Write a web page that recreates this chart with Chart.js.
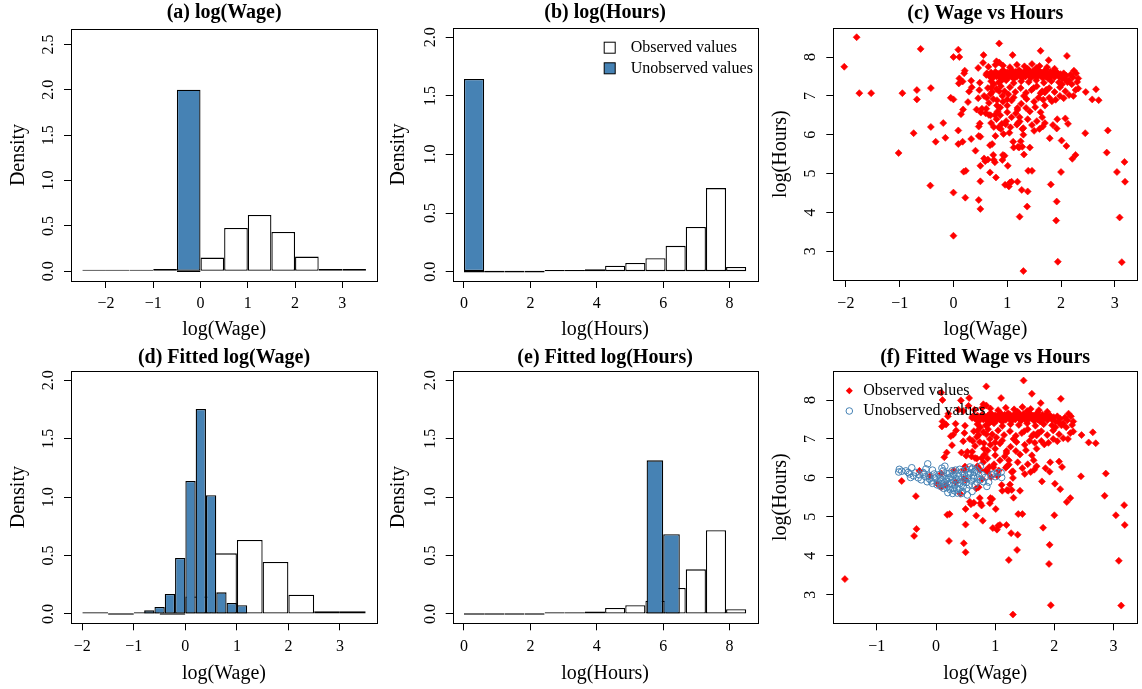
<!DOCTYPE html>
<html>
<head>
<meta charset="utf-8">
<script src="https://cdn.jsdelivr.net/npm/chart.js@4.4.1/dist/chart.umd.min.js"></script>
<style>
  body { margin: 0; background: #fff; }
  #wrap { position: relative; width: 1142px; height: 689px; }
  canvas { position: absolute; }
</style>
</head>
<body>
<div id="wrap">
  <canvas id="pa" width="380" height="345" style="left:0;top:0"></canvas>
  <canvas id="pb" width="380" height="345" style="left:380px;top:0"></canvas>
  <canvas id="pc" width="382" height="345" style="left:760px;top:0"></canvas>
  <canvas id="pd" width="380" height="344" style="left:0;top:345px"></canvas>
  <canvas id="pe" width="380" height="344" style="left:380px;top:345px"></canvas>
  <canvas id="pf" width="382" height="344" style="left:760px;top:345px"></canvas>
</div>
<script>
// ---- histogram data (bin breaks + densities) ----
const wageBreaksA = [-2.5, -2, -1.5, -1, -0.5, 0, 0.5, 1, 1.5, 2, 2.5, 3, 3.5];
const wageObsA = [0.004, 0.015, 0.004, 0.026, 0, 0.151, 0.478, 0.621, 0.434, 0.162, 0.026, 0.026];
const wageMisBreaksA = [-0.5, 0];
const wageMisA = [2.0];

const hoursBreaks = [0, 0.607, 1.214, 1.821, 2.429, 3.036, 3.643, 4.25, 4.857, 5.464, 6.071, 6.679, 7.286, 7.893, 8.5];
const hoursObsB = [0, 0, 0, 0, 0.014, 0.006, 0.02, 0.051, 0.074, 0.114, 0.22, 0.382, 0.713, 0.04];
const hoursMisBreaksB = [0, 0.607];
const hoursMisB = [1.644];

const wageBreaksD = [-2, -1.5, -1, -0.5, 0, 0.5, 1, 1.5, 2, 2.5, 3, 3.5];
const wageObsD = [0.009, 0, 0.009, 0, 0.15, 0.519, 0.633, 0.445, 0.165, 0.023, 0.023];
const wageFitBreaksD = [-0.8, -0.6, -0.4, -0.2, 0, 0.2, 0.4, 0.6, 0.8, 1.0, 1.2];
const wageFitD = [0.031, 0.06, 0.171, 0.479, 1.138, 1.755, 1.016, 0.185, 0.094, 0.074];

const hoursObsE = [0, 0, 0, 0, 0.014, 0.006, 0.02, 0.051, 0.074, 0.114, 0.223, 0.382, 0.716, 0.04];
const hoursFitBreaksE = [5.5, 6.0, 6.5];
const hoursFitE = [1.315, 0.682];

// ---- scatter data: [log(Wage), log(Hours)] ----
const obsCore = [
  [0.09,8.19],[0.11,8.0],[0.09,6.11],[0.09,5.76],[0.17,5.82],[0.19,5.05],[0.23,5.07],[0.22,4.38],[0.14,6.53],[0.18,6.65],
  [0.20,7.58],[0.21,7.65],[0.11,7.45],[0.10,7.32],[0.17,7.37],[0.27,6.84],[0.29,7.11],[0.33,5.89],[0.33,7.39],[0.41,5.59],
  [0.34,7.22],[0.43,6.65],[0.46,7.72],[0.46,6.94],[0.47,6.21],[0.47,5.97],[0.49,6.29],[0.47,4.32],[0.50,4.09],[0.50,4.80],
  [0.50,5.20],[0.48,7.15],[0.49,7.34],[0.50,5.95],[0.51,6.57],[0.53,6.67],[0.55,7.85],[0.56,8.05],[0.57,7.0],[0.57,5.39],
  [0.59,5.32],[0.61,6.67],[0.64,5.36],[0.61,7.54],[0.66,6.51],[0.68,5.03],[0.68,5.73],[0.70,7.21],[0.74,5.48],[0.75,5.35],
  [0.77,5.29],[0.77,6.51],[0.79,4.90],[0.80,7.89],[0.81,6.89],[0.85,7.86],[0.85,8.35],[0.87,6.70],[0.89,7.39],[0.91,5.35],
  [0.92,5.48],[0.95,5.46],[0.96,4.71],[0.97,6.27],[1.01,5.20],[1.02,7.04],[1.03,4.67],[1.05,4.77],[1.08,4.79],[1.10,8.05],
  [1.11,5.82],[1.12,5.67],[1.19,6.64],[1.19,4.79],[1.22,5.67],[1.23,3.89],[1.23,6.45],[1.25,5.83],[1.27,4.58],[1.30,2.49],
  [1.31,5.49],[1.37,4.15],[1.38,4.54],[1.39,5.07],[1.42,5.67],[1.46,5.07],[1.62,6.58],[1.66,6.21],[1.72,7.15],[1.79,5.91],
  [1.81,4.72],[1.83,6.86],[1.92,6.16],[1.93,6.40],[1.92,4.28],[1.91,3.79],[1.94,2.73],[2.00,5.04],[2.01,5.85],[2.08,6.42],
  [2.10,5.71],[2.13,6.28],[2.21,5.38],[2.27,5.48],[2.45,6.04],[2.58,6.91],[2.65,7.17],[2.70,6.89],[2.85,5.54],[2.87,6.11],
  [3.04,5.04],[3.09,3.87],[3.13,2.72],[3.18,5.30],[3.19,4.79],[2.27,7.15],[2.32,7.19],[2.11,8.03],[1.77,7.92],[1.62,8.16],
  [2.07,7.43],[2.24,7.65],[2.32,7.45],[2.23,7.0],[2.05,6.94],[2.15,7.02],[1.65,6.45],[1.30,6.17],[1.23,6.34],[1.20,5.69],
  [1.28,5.69],[1.18,6.26],[1.19,6.69],[1.35,6.69],[1.52,6.71],[1.67,6.90],[1.70,7.09],[1.74,7.16],[1.62,7.07],[1.49,7.20],
  [1.31,7.0],[1.12,6.96],[1.0,6.91],[0.91,7.0],[0.85,7.12],[0.75,7.3],[0.69,7.05],[0.62,6.95],[0.69,6.50],[0.81,6.75],
  [0.87,6.50],[0.90,6.28],[1.0,6.58],[1.06,6.19],[0.93,6.02],[0.84,6.19],[0.78,5.97],[0.72,5.76],[2.46,7.10],
  [0.62,7.58],[0.66,7.52],[0.70,7.60],[0.72,7.45],[0.75,7.55],[0.78,7.62],[0.80,7.50],[0.83,7.57],[0.86,7.48],[0.88,7.60],
  [0.90,7.53],[0.92,7.66],[0.94,7.45],[0.96,7.58],[0.98,7.52],[1.00,7.61],[1.02,7.47],[1.04,7.56],[1.06,7.63],[1.08,7.50],
  [1.10,7.58],[1.12,7.44],[1.14,7.54],[1.16,7.62],[1.18,7.49],[1.20,7.57],[1.22,7.66],[1.24,7.52],[1.26,7.59],[1.28,7.46],
  [1.30,7.55],[1.32,7.63],[1.34,7.50],[1.36,7.58],[1.38,7.70],[1.40,7.53],[1.42,7.60],[1.44,7.47],[1.46,7.56],[1.48,7.64],
  [1.50,7.51],[1.52,7.58],[1.54,7.72],[1.56,7.49],[1.58,7.57],[1.60,7.62],[1.62,7.53],[1.64,7.60],[1.66,7.46],[1.68,7.55],
  [1.70,7.64],[1.72,7.50],[1.74,7.58],[1.76,7.45],[1.78,7.55],[1.80,7.62],[1.82,7.52],[1.85,7.58],[1.88,7.48],[1.90,7.55],
  [1.93,7.60],[1.96,7.50],[1.99,7.56],[2.02,7.45],[2.05,7.58],[2.10,7.52],[2.15,7.40],[2.18,7.55],[2.22,7.48],[2.28,7.58],
  [2.30,7.36],[2.20,7.30],[2.12,7.35],[0.65,7.75],[0.78,7.80],[0.92,7.78],[1.05,7.74],[1.18,7.80],[1.32,7.76],[1.46,7.82],
  [1.60,7.77],[1.74,7.74],[1.88,7.70],[0.70,7.38],[0.84,7.35],[0.98,7.40],[1.12,7.33],[1.26,7.38],[1.40,7.36],[1.54,7.40],
  [1.68,7.34],[1.82,7.38],[1.96,7.35],[2.02,7.30],[0.95,7.62],[1.03,7.55],[1.15,7.58],[1.27,7.53],[1.35,7.56],[1.45,7.52],
  [1.55,7.60],[1.65,7.55],[1.75,7.52],[1.86,7.62],[1.10,7.65],[1.25,7.62],[1.40,7.66],[1.58,7.66],[1.72,7.68],
  [0.64,7.20],[0.72,7.10],[0.80,7.18],[0.88,7.25],[0.95,7.12],[1.05,7.22],[1.15,7.10],[1.25,7.20],[1.35,7.08],[1.45,7.15],
  [1.55,7.25],[1.65,7.12],[1.78,7.20],[1.88,7.10],[1.98,7.22],[2.08,7.12],[0.66,6.82],[0.74,6.92],[0.82,6.60],[0.92,6.85],
  [1.00,6.75],[1.08,6.88],[1.16,6.55],[1.26,6.80],[1.36,6.92],[1.42,6.60],[1.50,6.85],[1.58,6.95],[1.70,6.75],[1.78,6.95],
  [1.90,6.90],[1.98,7.00],[0.70,6.30],[0.80,6.40],[0.88,6.15],[0.98,6.35],[1.08,6.45],[1.20,6.30],[1.28,6.15],[1.38,6.40],
  [1.46,6.25],[1.55,6.35],[1.70,6.30],[1.85,6.25],[1.04,6.05],[1.30,6.00],[1.50,6.10],[1.60,6.15],[0.60,6.55],[0.75,6.20]
];
// points only in panel (c) (non-positive log wage)
const obsOnlyC = [
  [-2.03,7.75],[-1.80,8.51],[-1.75,7.07],[-1.53,7.07],[-1.02,5.53],[-0.95,7.07],[-0.61,8.21],[-0.74,6.04],[-0.68,7.15],
  [-0.68,6.91],[-0.42,7.20],[-0.42,6.20],[-0.43,4.69],[-0.33,5.82],[-0.19,6.30],[-0.15,5.92],[-0.05,6.95],[0.0,6.91],
  [0.0,4.51],[0.0,3.40],[0.0,8.0]
];
// points only in panel (f)
const obsOnlyF = [
  [-1.54,3.40],[-0.58,5.92],[-0.34,5.53],[-0.33,4.69],[-0.37,4.51],[1.48,8.50],[0.42,7.99],[-0.28,6.18],[-0.10,6.05],
  [0.02,5.85],[0.30,6.19],[0.25,7.07],[0.38,7.75]
];
const unobsF = [
  [-0.62,6.22],[-0.63,6.15],[-0.58,6.17],[-0.41,6.26],[-0.47,6.14],[-0.51,6.18],[-0.43,6.01],[-0.34,6.14],[-0.28,6.08],
  [-0.22,6.14],[-0.14,6.36],[-0.17,6.23],[-0.06,6.20],[-0.18,6.03],[-0.11,5.97],[-0.02,5.99],[0.03,5.90],[0.10,5.95],
  [0.15,6.30],[0.19,6.11],[0.25,6.03],[0.33,6.20],[0.38,6.03],[0.44,6.16],[0.49,5.99],[0.57,6.28],[0.75,6.30],[0.72,6.12],
  [0.64,5.99],[0.52,5.73],[0.45,5.65],[0.36,5.61],[0.29,5.73],[0.22,5.82],[0.13,5.73],[0.08,5.78],[0.02,5.82],[-0.06,5.86],
  [0.66,5.82],[0.69,5.89],[0.75,5.95],[0.83,6.01],[0.80,5.90],[0.86,5.78],[0.89,5.89],[0.94,6.08],[1.00,6.03],[1.04,6.14],
  [1.10,6.14],[1.11,6.01],[0.97,6.10],[0.61,5.65],[0.53,5.56],[-0.30,6.00],[-0.25,5.95],[-0.20,6.10],[-0.12,6.05],
  [-0.08,5.92],[-0.03,6.10],[0.00,6.02],[0.05,6.08],[0.07,5.98],[0.12,6.05],[0.14,5.88],[0.17,5.98],[0.20,5.90],[0.23,6.12],
  [0.26,5.85],[0.28,5.95],[0.30,6.08],[0.32,5.80],[0.35,5.92],[0.37,6.12],[0.40,5.85],[0.42,5.95],[0.46,5.78],[0.48,6.08],
  [0.51,5.88],[0.54,6.00],[0.56,5.82],[0.58,6.12],[0.60,5.92],[0.63,6.05],[0.18,5.75],[0.24,5.70],[0.31,5.67],[0.39,5.72],
  [0.43,5.60],[0.27,6.18],[0.12,6.18],[0.40,6.22],[0.50,6.20],[0.60,6.22],[-0.38,6.05],[-0.45,6.10],[0.08,5.85],[0.22,6.00],
  [0.34,5.98],[0.47,5.90],[0.55,6.10],[0.65,6.15],[0.70,6.00],[0.78,6.08],[0.20,5.62],[0.35,5.72],[0.28,5.60],[0.15,5.80],
  [-0.15,5.90],[0.10,6.25],[0.62,6.25],[0.68,6.20]
];

const STEEL = '#4682b4';
const RED = '#ff0000';
Chart.defaults.font.family = "'Liberation Serif', 'Times New Roman', serif";
Chart.defaults.color = '#000';
Chart.defaults.animation = false;

function binPoints(breaks, dens) {
  return dens.map((d, i) => ({ x: (breaks[i] + breaks[i + 1]) / 2, y: d }));
}
function pairs(list) {
  return list.map(p => ({ x: p[0], y: p[1] }));
}
function minus(v) {
  return v < 0 ? '\u2212' + Math.abs(v) : String(v);
}

// box round the plot region, like R's box()
const frame = {
  id: 'frame',
  afterDatasetsDraw(chart) {
    const { ctx, chartArea: a } = chart;
    ctx.save();
    ctx.strokeStyle = '#000';
    ctx.lineWidth = 1;
    ctx.strokeRect(Math.round(a.left) + 0.5, Math.round(a.top) + 0.5,
      Math.round(a.right) - Math.round(a.left), Math.round(a.bottom) - Math.round(a.top));
    ctx.restore();
  }
};

// R style legend without a border
const keyBox = {
  id: 'keyBox',
  afterDraw(chart, args, o) {
    if (!o.show) return;
    const { ctx, chartArea: a } = chart;
    ctx.save();
    ctx.font = "16px 'Liberation Serif'";
    ctx.textBaseline = 'middle';
    chart.data.datasets.filter(d => d.label).forEach((d, i) => {
      const cx = a.left + o.dx, cy = a.top + o.dy + i * o.gap;
      ctx.lineWidth = 1;
      if (o.kind === 'box') {
        ctx.fillStyle = d.backgroundColor;
        ctx.fillRect(cx - 5.5, cy - 5.5, 11, 11);
        ctx.strokeStyle = '#000';
        ctx.strokeRect(cx - 5.5, cy - 5.5, 11, 11);
      } else if (d.pointStyle === 'rectRot') {
        const r = d.pointRadius;
        ctx.beginPath();
        ctx.moveTo(cx, cy - r); ctx.lineTo(cx + r, cy); ctx.lineTo(cx, cy + r); ctx.lineTo(cx - r, cy);
        ctx.closePath();
        ctx.fillStyle = d.backgroundColor;
        ctx.fill();
      } else {
        ctx.beginPath();
        ctx.arc(cx, cy, d.pointRadius, 0, Math.PI * 2);
        ctx.strokeStyle = d.borderColor;
        ctx.stroke();
      }
      ctx.fillStyle = '#000';
      ctx.fillText(d.label, a.left + o.tx, cy);
    });
    ctx.restore();
  }
};

function xAxis(g, step) {
  return {
    type: 'linear', position: 'bottom', min: g.xMin, max: g.xMax, offset: false,
    afterFit: s => { s.height = g.H - g.B; },
    ticks: { stepSize: step, includeBounds: false, autoSkip: false, maxRotation: 0,
      font: { size: 16 }, padding: g.xTickPad, callback: v => minus(v) },
    grid: { drawOnChartArea: false, drawTicks: true, tickLength: 7, color: '#000', offset: false },
    border: { display: false },
    title: { display: true, text: g.xTitle, font: { size: 20 }, padding: { top: 0, bottom: g.xTitlePad } }
  };
}
function yAxis(g, step, fmt) {
  return {
    type: 'linear', position: 'left', min: g.yMin, max: g.yMax,
    afterFit: s => { s.width = g.L; },
    ticks: { stepSize: step, includeBounds: false, autoSkip: false, minRotation: 90, maxRotation: 90,
      crossAlign: 'center', font: { size: 16 }, padding: g.yTickPad, callback: fmt },
    grid: { drawOnChartArea: false, drawTicks: true, tickLength: 7, color: '#000' },
    border: { display: false },
    title: { display: true, text: g.yTitle, font: { size: 20 }, padding: { top: g.yTitlePad, bottom: 0 } }
  };
}
function baseOptions(g, scales, legend) {
  return {
    responsive: false,
    animation: false,
    layout: { padding: { left: 0, top: 0, bottom: 0, right: g.W - g.R } },
    scales: scales,
    plugins: {
      legend: { display: false },
      tooltip: { enabled: false },
      title: { display: true, text: g.title, fullSize: false, font: { size: 20, weight: 'bold' },
        padding: { top: g.titleTop, bottom: g.T - 24 - g.titleTop } },
      keyBox: legend || { show: false }
    }
  };
}

function histogram(id, g, sets, legend) {
  const scales = { x: xAxis(g, g.xStep), y: yAxis(g, 0.5, v => v.toFixed(1)) };
  if (sets.some(s => s.xAxisID === 'x2')) {
    scales.x2 = { type: 'linear', display: false, min: g.xMin, max: g.xMax, offset: false,
      ticks: { stepSize: 1000 }, grid: { offset: false } };
  }
  const datasets = sets.map(s => ({
    label: s.label,
    data: s.data,
    xAxisID: s.xAxisID || 'x',
    backgroundColor: s.fill,
    borderColor: '#000',
    borderWidth: 1.3,
    borderSkipped: false,
    inflateAmount: 0,
    minBarLength: 1.6,
    grouped: false,
    barPercentage: 1,
    categoryPercentage: 1,
    order: s.order
  }));
  new Chart(document.getElementById(id), {
    type: 'bar',
    data: { datasets },
    options: baseOptions(g, scales, legend),
    plugins: [frame, keyBox]
  });
}

function scatter(id, g, datasets, legend) {
  const scales = { x: xAxis(g, 1), y: yAxis(g, 1, v => String(v)) };
  new Chart(document.getElementById(id), {
    type: 'scatter',
    data: { datasets },
    options: baseOptions(g, scales, legend),
    plugins: [frame, keyBox]
  });
}

const redPts = data => ({ label: 'Observed values', data, pointStyle: 'rectRot', pointRadius: 3.5,
  backgroundColor: RED, borderColor: RED, borderWidth: 0.6, order: 1 });

// ---- panel (a) ----
histogram('pa', {
  W: 380, H: 345, L: 71, T: 29, R: 377.3, B: 281, titleTop: 0.5,
  title: '(a) log(Wage)', xTitle: 'log(Wage)', yTitle: 'Density',
  xMin: -2.74, xMax: 3.74, xStep: 1, yMin: -0.107, yMax: 2.67,
  xTickPad: 6.4, xTitlePad: 3, yTickPad: 5, yTitlePad: 6.3
}, [
  { data: binPoints(wageBreaksA, wageObsA), fill: '#fff', order: 1 },
  { data: binPoints(wageMisBreaksA, wageMisA), fill: STEEL, order: 0 }
]);

// ---- panel (b) ----
histogram('pb', {
  W: 380, H: 345, L: 72.7, T: 28, R: 377.5, B: 281, titleTop: 0.5,
  title: '(b) log(Hours)', xTitle: 'log(Hours)', yTitle: 'Density',
  xMin: -0.34, xMax: 8.84, xStep: 2, yMin: -0.08, yMax: 2.08,
  xTickPad: 6.4, xTitlePad: 3, yTickPad: 5, yTitlePad: 6.3
}, [
  { label: 'Observed values', data: binPoints(hoursBreaks, hoursObsB), fill: '#fff', order: 1 },
  { label: 'Unobserved values', data: binPoints(hoursMisBreaksB, hoursMisB), fill: STEEL, order: 0 }
], { show: true, kind: 'box', dx: 157, dy: 19.7, gap: 20.6, tx: 178 });

// ---- panel (c) ----
scatter('pc', {
  W: 382, H: 345, L: 73.3, T: 28.3, R: 380, B: 280, titleTop: 2,
  title: '(c) Wage vs Hours', xTitle: 'log(Wage)', yTitle: 'log(Hours)',
  xMin: -2.234, xMax: 3.42, yMin: 2.26, yMax: 8.74,
  xTickPad: 7.4, xTitlePad: 3, yTickPad: 11.5, yTitlePad: 8.7
}, [redPts(pairs(obsCore.concat(obsOnlyC)))]);

// ---- panel (d) ----
histogram('pd', {
  W: 380, H: 344, L: 71, T: 26, R: 377, B: 278.3, titleTop: 0.8,
  title: '(d) Fitted log(Wage)', xTitle: 'log(Wage)', yTitle: 'Density',
  xMin: -2.22, xMax: 3.72, xStep: 1, yMin: -0.08, yMax: 2.08,
  xTickPad: 6.8, xTitlePad: 3.7, yTickPad: 5, yTitlePad: 6.3
}, [
  { data: binPoints(wageBreaksD, wageObsD), fill: '#fff', order: 1 },
  { data: binPoints(wageFitBreaksD, wageFitD), fill: STEEL, order: 0, xAxisID: 'x2' }
]);

// ---- panel (e) ----
histogram('pe', {
  W: 380, H: 344, L: 72.7, T: 26, R: 377.5, B: 278.3, titleTop: 0.8,
  title: '(e) Fitted log(Hours)', xTitle: 'log(Hours)', yTitle: 'Density',
  xMin: -0.34, xMax: 8.84, xStep: 2, yMin: -0.08, yMax: 2.08,
  xTickPad: 6.8, xTitlePad: 3.7, yTickPad: 5, yTitlePad: 6.3
}, [
  { data: binPoints(hoursBreaks, hoursObsE), fill: '#fff', order: 1 },
  { data: binPoints(hoursFitBreaksE, hoursFitE), fill: STEEL, order: 0, xAxisID: 'x2' }
]);

// ---- panel (f) ----
scatter('pf', {
  W: 382, H: 344, L: 73.3, T: 26, R: 380, B: 278.3, titleTop: 0.8,
  title: '(f) Fitted Wage vs Hours', xTitle: 'log(Wage)', yTitle: 'log(Hours)',
  xMin: -1.736, xMax: 3.397, yMin: 2.265, yMax: 8.745,
  xTickPad: 6.8, xTitlePad: 3.7, yTickPad: 11.5, yTitlePad: 8.7
}, [
  redPts(pairs(obsCore.concat(obsOnlyF))),
  { label: 'Unobserved values', data: pairs(unobsF), pointStyle: 'circle', pointRadius: 3.3,
    backgroundColor: 'rgba(0,0,0,0)', borderColor: STEEL, borderWidth: 1, order: 0 }
], { show: true, kind: 'point', dx: 16, dy: 19.7, gap: 20.3, tx: 30 });
</script>
</body>
</html>
